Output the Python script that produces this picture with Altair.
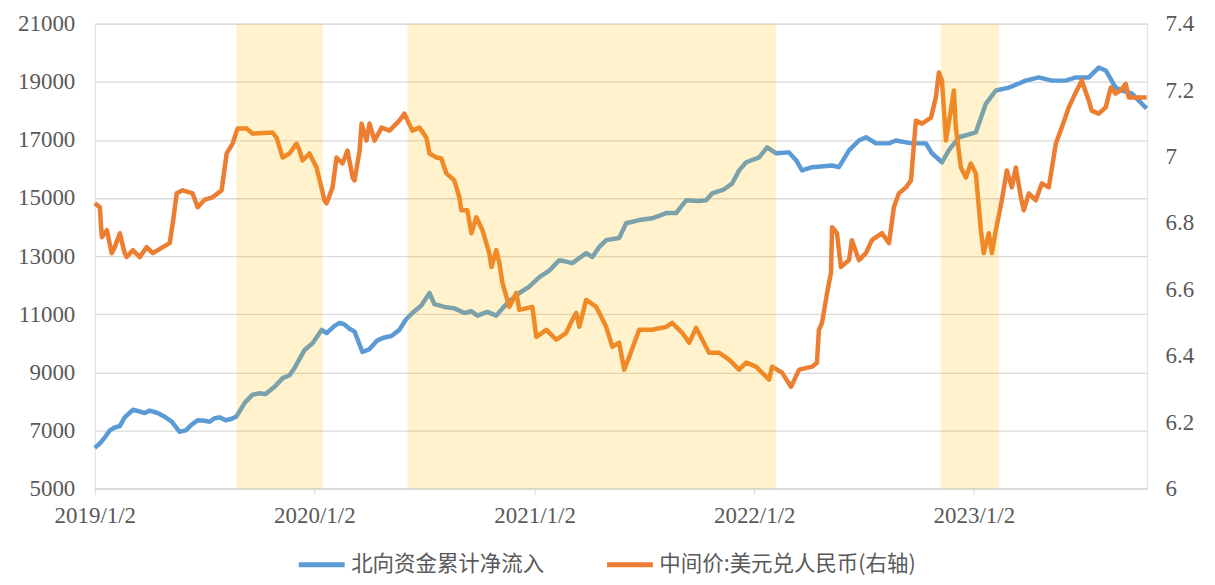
import altair as alt
import pandas as pd

# ---- data (decimal year, value) ----
north_t = [2019.000, 2019.023, 2019.045, 2019.068, 2019.091, 2019.114, 2019.136, 2019.173, 2019.205, 2019.227,
           2019.250, 2019.286, 2019.318, 2019.350, 2019.386, 2019.414, 2019.441, 2019.468, 2019.500, 2019.523,
           2019.545, 2019.568, 2019.595, 2019.623, 2019.645, 2019.682, 2019.718, 2019.750, 2019.777, 2019.818,
           2019.855, 2019.886, 2019.909, 2019.955, 2019.991, 2020.032, 2020.055, 2020.091, 2020.114, 2020.136,
           2020.159, 2020.182, 2020.218, 2020.250, 2020.286, 2020.318, 2020.350, 2020.386, 2020.414, 2020.445,
           2020.486, 2020.523, 2020.545, 2020.591, 2020.636, 2020.682, 2020.714, 2020.741, 2020.786, 2020.827,
           2020.855, 2020.886, 2020.932, 2020.977, 2021.023, 2021.068, 2021.114, 2021.173, 2021.236, 2021.264,
           2021.295, 2021.327, 2021.386, 2021.418, 2021.477, 2021.536, 2021.600, 2021.645, 2021.691, 2021.750,
           2021.782, 2021.809, 2021.864, 2021.900, 2021.932, 2021.964, 2022.023, 2022.059, 2022.100, 2022.159,
           2022.191, 2022.218, 2022.264, 2022.355, 2022.386, 2022.432, 2022.477, 2022.509, 2022.555, 2022.614,
           2022.645, 2022.718, 2022.782, 2022.809, 2022.855, 2022.886, 2022.932, 2023.009, 2023.055, 2023.100,
           2023.159, 2023.236, 2023.295, 2023.355, 2023.418, 2023.464, 2023.523, 2023.568, 2023.600, 2023.645,
           2023.673, 2023.718, 2023.786]
north_v = [6400, 6550, 6750, 7000, 7100, 7150, 7450, 7710, 7650, 7600,
           7680, 7600, 7470, 7300, 6950, 7000, 7200, 7350, 7330, 7300,
           7420, 7450, 7350, 7400, 7480, 7950, 8230, 8280, 8250, 8500,
           8800, 8900, 9150, 9770, 10000, 10460, 10350, 10600, 10700, 10650,
           10500, 10400, 9700, 9800, 10100, 10200, 10250, 10460, 10800, 11040,
           11300, 11730, 11350, 11250, 11200, 11040, 11100, 10950, 11080, 10950,
           11200, 11450, 11730, 11950, 12280, 12500, 12860, 12760, 13100, 12970,
           13310, 13550, 13620, 14130, 14240, 14300, 14480, 14480, 14920, 14900,
           14920, 15160, 15300, 15500, 15950, 16230, 16400, 16740, 16540, 16570,
           16300, 15950, 16060, 16120, 16060, 16640, 16980, 17090, 16880, 16880,
           16980, 16880, 16880, 16540, 16230, 16640, 17090, 17260, 18250, 18700,
           18800, 19040, 19150, 19040, 19040, 19150, 19150, 19490, 19390, 18800,
           18700, 18600, 18080]

fx_t = [2019.000, 2019.023, 2019.032, 2019.055, 2019.077, 2019.091, 2019.114, 2019.136, 2019.145, 2019.173,
        2019.205, 2019.236, 2019.264, 2019.309, 2019.341, 2019.355, 2019.373, 2019.400, 2019.445, 2019.468,
        2019.500, 2019.536, 2019.577, 2019.600, 2019.627, 2019.650, 2019.691, 2019.718, 2019.809, 2019.827,
        2019.855, 2019.886, 2019.918, 2019.932, 2019.945, 2019.977, 2020.009, 2020.045, 2020.055, 2020.082,
        2020.100, 2020.127, 2020.150, 2020.173, 2020.182, 2020.205, 2020.214, 2020.236, 2020.250, 2020.273,
        2020.305, 2020.341, 2020.386, 2020.409, 2020.445, 2020.477, 2020.509, 2020.523, 2020.555, 2020.577,
        2020.600, 2020.636, 2020.659, 2020.668, 2020.695, 2020.714, 2020.736, 2020.764, 2020.795, 2020.805,
        2020.827, 2020.841, 2020.855, 2020.886, 2020.918, 2020.932, 2020.991, 2021.009, 2021.055, 2021.100,
        2021.145, 2021.173, 2021.191, 2021.205, 2021.236, 2021.282, 2021.327, 2021.355, 2021.386, 2021.409,
        2021.432, 2021.477, 2021.536, 2021.600, 2021.627, 2021.673, 2021.705, 2021.736, 2021.795, 2021.841,
        2021.886, 2021.932, 2021.964, 2022.009, 2022.068, 2022.082, 2022.127, 2022.168, 2022.205, 2022.264,
        2022.286, 2022.295, 2022.309, 2022.327, 2022.332, 2022.350, 2022.355, 2022.377, 2022.395, 2022.432,
        2022.445, 2022.477, 2022.509, 2022.536, 2022.582, 2022.614, 2022.636, 2022.659, 2022.691, 2022.714,
        2022.736, 2022.764, 2022.805, 2022.827, 2022.841, 2022.855, 2022.873, 2022.895, 2022.909, 2022.918,
        2022.941, 2022.964, 2022.986, 2023.009, 2023.032, 2023.045, 2023.068, 2023.082, 2023.100, 2023.127,
        2023.150, 2023.173, 2023.191, 2023.214, 2023.227, 2023.250, 2023.282, 2023.309, 2023.341, 2023.373,
        2023.400, 2023.432, 2023.468, 2023.491, 2023.523, 2023.536, 2023.568, 2023.600, 2023.623, 2023.645,
        2023.668, 2023.691, 2023.705, 2023.736, 2023.786]
fx_v = [6.859, 6.847, 6.757, 6.778, 6.709, 6.727, 6.769, 6.709, 6.697, 6.718,
        6.697, 6.727, 6.709, 6.727, 6.739, 6.800, 6.889, 6.898, 6.889, 6.847,
        6.870, 6.877, 6.898, 7.009, 7.039, 7.084, 7.084, 7.069, 7.072, 7.057,
        6.997, 7.009, 7.039, 7.018, 6.988, 7.009, 6.967, 6.868, 6.859, 6.907,
        6.997, 6.979, 7.018, 6.937, 6.928, 7.018, 7.099, 7.048, 7.099, 7.048,
        7.087, 7.078, 7.108, 7.129, 7.078, 7.087, 7.057, 7.009, 6.997, 6.994,
        6.949, 6.928, 6.877, 6.838, 6.838, 6.769, 6.817, 6.778, 6.709, 6.667,
        6.718, 6.679, 6.619, 6.547, 6.589, 6.538, 6.547, 6.457, 6.478, 6.448,
        6.469, 6.508, 6.529, 6.487, 6.568, 6.547, 6.487, 6.427, 6.439, 6.358,
        6.397, 6.478, 6.478, 6.487, 6.499, 6.469, 6.439, 6.484, 6.409, 6.409,
        6.388, 6.358, 6.379, 6.367, 6.328, 6.367, 6.349, 6.306, 6.358, 6.367,
        6.379, 6.478, 6.499, 6.568, 6.589, 6.650, 6.787, 6.769, 6.667, 6.688,
        6.748, 6.688, 6.709, 6.748, 6.769, 6.739, 6.847, 6.889, 6.907, 6.928,
        7.108, 7.099, 7.117, 7.178, 7.253, 7.229, 7.048, 7.138, 7.199, 7.087,
        6.967, 6.937, 6.979, 6.949, 6.778, 6.709, 6.769, 6.709, 6.778, 6.868,
        6.958, 6.907, 6.967, 6.877, 6.838, 6.889, 6.868, 6.919, 6.907, 7.039,
        7.087, 7.148, 7.199, 7.229, 7.168, 7.138, 7.129, 7.148, 7.208, 7.189,
        7.199, 7.219, 7.178, 7.178, 7.178]

band_start = [2019.645, 2020.423, 2022.850]
band_end = [2020.036, 2022.100, 2023.114]

series_names = ["北向资金累计净流入", "中间价:美元兑人民币(右轴)"]
series_colors = ["#5B9BD5", "#ED7D31"]
year_ticks = [2019, 2020, 2021, 2022, 2023]

# ---- build tables ----
BASE = pd.Timestamp("2019-01-02")


def to_date(t):
    return BASE + pd.to_timedelta((t - 2019.0) * 365.25, unit="D")


north_df = pd.DataFrame({"date": [to_date(t) for t in north_t], "value": north_v, "series": series_names[0]})
fx_df = pd.DataFrame({"date": [to_date(t) for t in fx_t], "value": fx_v, "series": series_names[1]})
band_df = pd.DataFrame({"start": [to_date(t) for t in band_start], "end": [to_date(t) for t in band_end]})

W, H = 1055, 466
TEXT = "#595959"
GRID = "#D9D9D9"
NUMFONT = "Liberation Serif"
NUMSIZE = 23

xscale = alt.Scale(domain=[alt.DateTime(year=2019, month=1, date=2), alt.DateTime(year=2023, month=10, date=17)],
                   nice=False)
xaxis = alt.Axis(values=[alt.DateTime(year=y, month=1, date=2) for y in year_ticks], format="%Y/%-m/%-d",
                 title=None, grid=False, domainColor=GRID, domainWidth=1.3, tickColor=GRID, tickSize=6,
                 labelFont=NUMFONT, labelFontSize=NUMSIZE, labelColor=TEXT, labelPadding=10, labelFlush=False,
                 labelOverlap=False, labelBound=False)

color = alt.Color("series:N",
                  scale=alt.Scale(domain=series_names, range=series_colors),
                  legend=alt.Legend(title=None, orient="none", direction="horizontal", legendX=202, legendY=517,
                                    symbolType="stroke", symbolSize=2116, symbolStrokeWidth=5,
                                    labelFont="Noto Sans CJK SC", labelFontSize=21.5, labelColor=TEXT,
                                    labelLimit=500, columnPadding=52, labelOffset=4))

north = alt.Chart(north_df).mark_line(strokeWidth=4.5, strokeJoin="round").encode(
    x=alt.X("date:T", scale=xscale, axis=xaxis),
    y=alt.Y("value:Q", scale=alt.Scale(domain=[5000, 21000], nice=False),
            axis=alt.Axis(values=list(range(5000, 21001, 2000)), orient="left", title=None, domain=False,
                          ticks=False, grid=True, gridColor=GRID, gridWidth=1.3, format="d", labelFont=NUMFONT,
                          labelFontSize=NUMSIZE, labelColor=TEXT, labelPadding=20)),
    color=color,
)

fx = alt.Chart(fx_df).mark_line(strokeWidth=4.5, strokeJoin="round").encode(
    x=alt.X("date:T", scale=xscale),
    y=alt.Y("value:Q", scale=alt.Scale(domain=[6.0, 7.4], nice=False),
            axis=alt.Axis(values=[6.0, 6.2, 6.4, 6.6, 6.8, 7.0, 7.2, 7.4], orient="right", title=None,
                          domain=False, ticks=False, grid=False, format=".1~f", labelFont=NUMFONT,
                          labelFontSize=NUMSIZE, labelColor=TEXT, labelPadding=18)),
    color=color,
)

bands = alt.Chart(band_df).mark_rect(color="#FFC000", opacity=0.2).encode(
    x=alt.X("start:T", scale=xscale),
    x2="end:T",
)

chart = alt.layer(north, fx, bands).resolve_scale(y="independent").properties(
    width=W, height=H,
    autosize=alt.AutoSizeParams(type="none"),
    padding={"left": 87, "top": 15, "right": 60, "bottom": 94},
).configure_view(stroke=None).configure(background="white")

chart.save("out.html", embed_options={"renderer": "svg", "actions": False})
